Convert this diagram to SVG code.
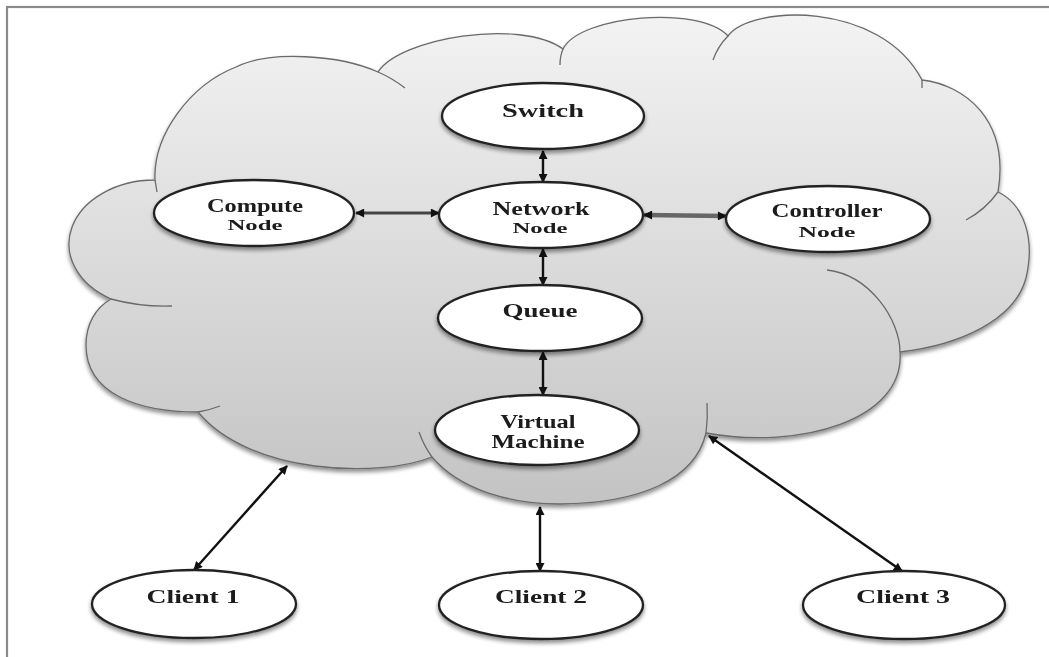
<svg xmlns="http://www.w3.org/2000/svg" width="1049" height="657" viewBox="0 0 1049 657">
  <defs>
    <linearGradient id="cloudGrad" gradientUnits="userSpaceOnUse" x1="0" y1="15" x2="0" y2="505">
      <stop offset="0" stop-color="#f3f3f3"/>
      <stop offset="1" stop-color="#c3c3c3"/>
    </linearGradient>
    <filter id="shadow" x="-10%" y="-10%" width="120%" height="130%">
      <feGaussianBlur in="SourceAlpha" stdDeviation="2"/>
      <feOffset dx="0" dy="3" result="b"/>
      <feComponentTransfer><feFuncA type="linear" slope="0.45"/></feComponentTransfer>
      <feMerge><feMergeNode/><feMergeNode in="SourceGraphic"/></feMerge>
    </filter>
    <marker id="arr" viewBox="0 0 10 10" refX="9" refY="5" markerWidth="10" markerHeight="9" markerUnits="userSpaceOnUse" orient="auto-start-reverse">
      <path d="M0,0 L10,5 L0,10 z" fill="#111"/>
    </marker>
  </defs>
  <style>
    .frame { fill: none; stroke: #8a8a8a; stroke-width: 2.2; }
    .cloud { fill: url(#cloudGrad); stroke: #6a6a6a; stroke-width: 1.3; }
    .inner { fill: none; stroke: #6a6a6a; stroke-width: 1.3; }
    .node ellipse { fill: #ffffff; stroke: #222; stroke-width: 2.3; }
    .lbl { font-family: "Liberation Serif", "Times New Roman", serif; font-weight: bold; font-size: 19px; fill: #1a1a1a; text-anchor: middle; }
    .sub { font-family: "Liberation Serif", "Times New Roman", serif; font-weight: bold; font-size: 14px; fill: #1a1a1a; text-anchor: middle; }
    .conn { stroke: #111; stroke-width: 2.4; fill: none; marker-start: url(#arr); marker-end: url(#arr); }
    .conn-mid { stroke: #444; stroke-width: 3; fill: none; marker-start: url(#arr); marker-end: url(#arr); }
    .conn-thick { stroke: #666; stroke-width: 4.5; fill: none; marker-start: url(#arr); marker-end: url(#arr); }
  </style>

  <rect class="frame" x="7" y="7" width="1060" height="670"/>

  <g id="cloud">
    <path class="cloud" filter="url(#shadow)" d="M111,299 A86 64 0 0 1 155,180 C153,135 190,85 236,67 C270,50 340,55 378,72 C400,38 520,18 563,49 C580,15 700,5 728,36 C750,5 880,0 922,80 C965,85 1010,120 998,192 C1025,205 1035,240 1026,278 C1015,320 960,345 900,352 C905,420 800,450 706,433 C695,480 640,503 560,504 C510,504 460,490 432,457 C380,478 250,475 198,412 C140,412 86,395 86,345 C86,325 95,308 111,299 Z"/>
    <path class="inner" d="M111,299 Q140,307 172,306"/>
    <path class="inner" d="M155,180 L157,192"/>
    <path class="inner" d="M378,72 Q392,78 405,88"/>
    <path class="inner" d="M563,49 Q560,56 560,65"/>
    <path class="inner" d="M728,36 Q718,46 713,60"/>
    <path class="inner" d="M922,80 L922,88"/>
    <path class="inner" d="M998,192 Q985,210 966,220"/>
    <path class="inner" d="M900,352 C900,320 870,275 827,270"/>
    <path class="inner" d="M706,433 Q708,418 707,403"/>
    <path class="inner" d="M432,457 Q424,446 419,432"/>
    <path class="inner" d="M198,412 Q210,410 220,406"/>
  </g>

  <g id="connectors">
    <line class="conn" x1="543" y1="151" x2="543" y2="182"/>
    <line class="conn-mid" x1="356" y1="213" x2="439" y2="213"/>
    <line class="conn-thick" x1="644" y1="215" x2="726" y2="216"/>
    <line class="conn" x1="543" y1="249" x2="543" y2="285"/>
    <line class="conn" x1="543" y1="352" x2="543" y2="395"/>
    <line class="conn" x1="287" y1="466" x2="194" y2="570"/>
    <line class="conn" x1="540" y1="507" x2="540" y2="571"/>
    <line class="conn" x1="709" y1="436" x2="902" y2="571"/>
  </g>

  <g id="switch" class="node" filter="url(#shadow)">
    <ellipse cx="543" cy="116" rx="101" ry="33"/>
    <text class="lbl" x="543" y="117" textLength="82" lengthAdjust="spacingAndGlyphs">Switch</text>
  </g>
  <g id="network" class="node" filter="url(#shadow)">
    <ellipse cx="541" cy="215" rx="102" ry="33"/>
    <text class="lbl" x="541" y="215" textLength="97" lengthAdjust="spacingAndGlyphs">Network</text>
    <text class="sub" x="540" y="233" textLength="55" lengthAdjust="spacingAndGlyphs">Node</text>
  </g>
  <g id="compute" class="node" filter="url(#shadow)">
    <ellipse cx="254" cy="213" rx="100" ry="33"/>
    <text class="lbl" x="255" y="212" textLength="96" lengthAdjust="spacingAndGlyphs">Compute</text>
    <text class="sub" x="255" y="230" textLength="55" lengthAdjust="spacingAndGlyphs">Node</text>
  </g>
  <g id="controller" class="node" filter="url(#shadow)">
    <ellipse cx="828" cy="219" rx="102" ry="33"/>
    <text class="lbl" x="827" y="217" textLength="111" lengthAdjust="spacingAndGlyphs">Controller</text>
    <text class="sub" x="827" y="237" textLength="57" lengthAdjust="spacingAndGlyphs">Node</text>
  </g>
  <g id="queue" class="node" filter="url(#shadow)">
    <ellipse cx="540" cy="318" rx="102" ry="33"/>
    <text class="lbl" x="540" y="317" textLength="75" lengthAdjust="spacingAndGlyphs">Queue</text>
  </g>
  <g id="vm" class="node" filter="url(#shadow)">
    <ellipse cx="537" cy="430" rx="102" ry="35"/>
    <text class="lbl" x="538" y="428" textLength="75" lengthAdjust="spacingAndGlyphs">Virtual</text>
    <text class="lbl" x="538" y="448" textLength="93" lengthAdjust="spacingAndGlyphs">Machine</text>
  </g>
  <g id="client1" class="node" filter="url(#shadow)">
    <ellipse cx="194" cy="604" rx="102" ry="34"/>
    <text class="lbl" x="193" y="603" textLength="93" lengthAdjust="spacingAndGlyphs">Client 1</text>
  </g>
  <g id="client2" class="node" filter="url(#shadow)">
    <ellipse cx="541" cy="605" rx="102" ry="34"/>
    <text class="lbl" x="541" y="603" textLength="92" lengthAdjust="spacingAndGlyphs">Client 2</text>
  </g>
  <g id="client3" class="node" filter="url(#shadow)">
    <ellipse cx="904" cy="605" rx="101" ry="34"/>
    <text class="lbl" x="903" y="603" textLength="94" lengthAdjust="spacingAndGlyphs">Client 3</text>
  </g>
</svg>
